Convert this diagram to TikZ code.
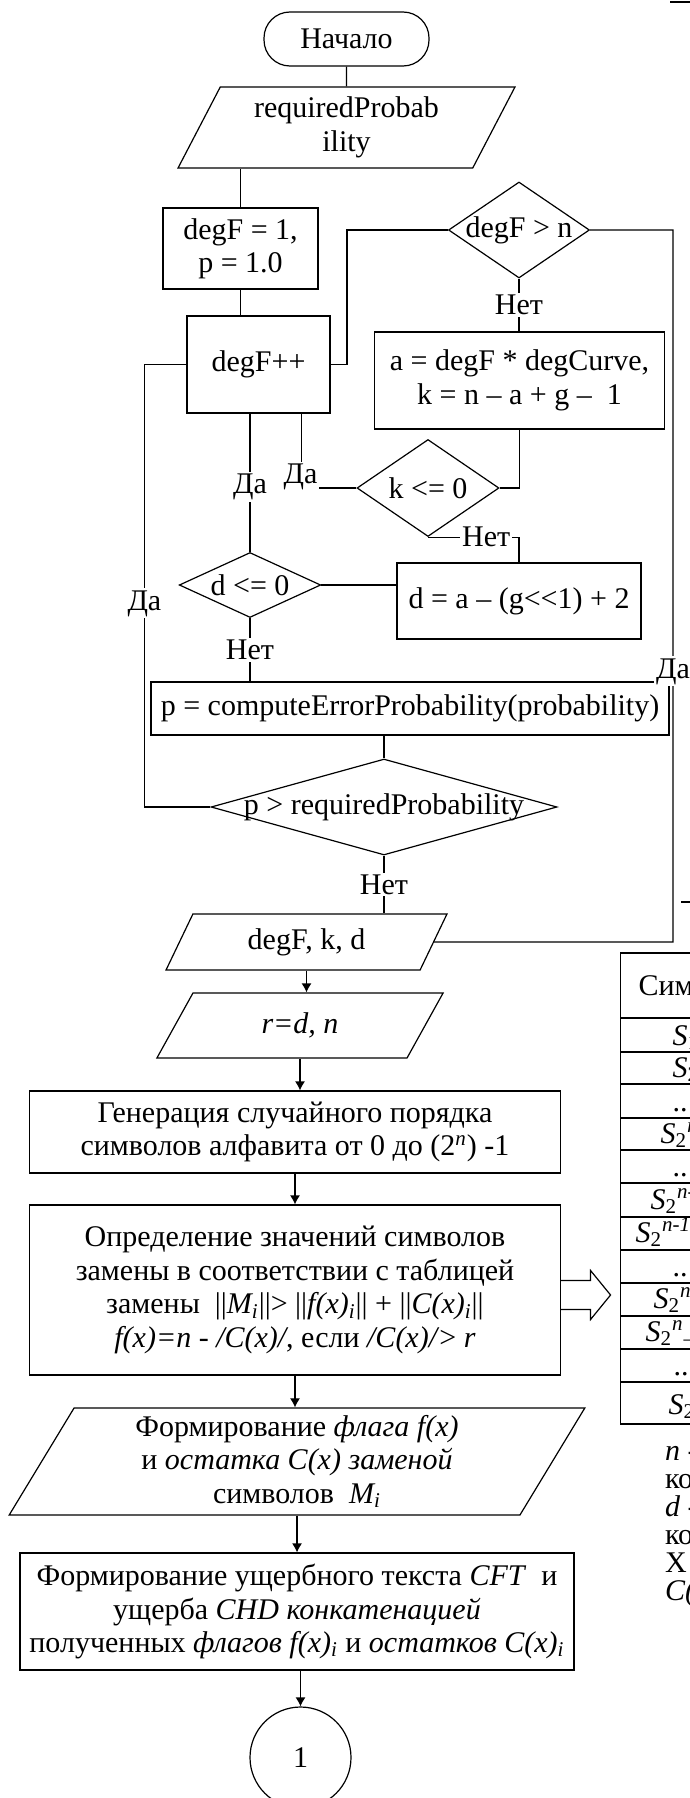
\documentclass[tikz,border=0pt]{standalone}
\usepackage{fontspec}
\setmainfont{Liberation Serif}
\usetikzlibrary{shapes.geometric,arrows.meta,calc}

\tikzset{
  box/.style={draw, rectangle, inner sep=0pt, align=center},
  io/.style={draw, trapezium, trapezium left angle=63, trapezium right angle=117,
    trapezium stretches=true, inner sep=0pt, align=center},
  decision/.style={draw, diamond, inner sep=0pt},
  term/.style={draw, rectangle, rounded corners=13pt, inner sep=0pt},
  lbl/.style={fill=white, inner sep=1pt},
  arr/.style={-{Latex[length=4.5pt,width=5pt]}},
  cell/.style={anchor=base west, inner sep=0pt}
}

\begin{document}
\begin{tikzpicture}[x=0.5pt, y=-0.5pt, line width=0.6pt,
    font=\fontsize{15}{16.7}\selectfont]
\useasboundingbox (0,0) rectangle (690,1798);

% blocks
\node[term, minimum width=82.5pt, minimum height=27pt] (start) at (346.5,39) {Начало};
\node[io, minimum width=168.5pt, minimum height=40.5pt] (input) at (346.5,127.5) {requiredProbab\\ility};
\node[box, minimum width=77.5pt, minimum height=40.5pt] (init) at (240.5,248.5) {degF = 1,\\p = 1.0};
\node[box, minimum width=71.5pt, minimum height=48.5pt] (incdeg) at (258.5,364.5) {degF++};
\node[decision, minimum width=70.5pt, minimum height=48pt, label=center:{degF > n}] (chkdeg) at (519,230) {};
\node[box, minimum width=145pt, minimum height=48.5pt] (calcak) at (519.5,380.5) {a = degF * degCurve,\\k = n – a + g –\ \ 1};
\node[decision, minimum width=71pt, minimum height=48.5pt, label=center:{k <= 0}] (chkk) at (428,488) {};
\node[box, minimum width=122pt, minimum height=38pt] (calcd) at (519,601) {d = a – (g<{}<1) + 2};
\node[decision, minimum width=70.75pt, minimum height=32.5pt, label=center:{d <= 0}] (chkd) at (250,585) {};
\node[box, minimum width=259pt, minimum height=26.5pt] (calcp) at (410,708.5) {p = computeErrorProbability(probability)};
\node[decision, minimum width=173pt, minimum height=48pt, label=center:{p > requiredProbability}] (chkp) at (384,807) {};
\node[io, minimum width=141pt, minimum height=28pt] (outp) at (306.5,942) {degF, k, d};
\node[io, minimum width=143.5pt, minimum height=32.5pt] (params) at (300,1025.5) {\textit{r=d, n}};
\node[box, minimum width=265.25pt, minimum height=41pt] (gen) at (295,1132)
  {Генерация случайного порядка\\символов алфавита от 0 до (2\textsuperscript{\textit{n}}) -1};
\node[box, minimum width=265.25pt, minimum height=85pt] (subst) at (295,1290)
  {Определение значений символов\\замены в соответствии с таблицей\\
   замены\ \ ||\textit{M\textsubscript{i}}||> ||\textit{f(x)\textsubscript{i}}|| + ||\textit{C(x)\textsubscript{i}}||\\
   \textit{f(x)=n} - \textit{/C(x)/}, если \textit{/C(x)/}> \textit{r}};
\node[io, minimum width=288pt, minimum height=53.5pt] (flags) at (297,1461.5)
  {Формирование \textit{флага f(x)}\\и \textit{остатка C(x) заменой}\\символов\ \ \textit{M\textsubscript{i}}};
\node[box, minimum width=277pt, minimum height=58.5pt] (concat) at (297,1611.5)
  {Формирование ущербного текста \textit{CFT}\ \ и\\ущерба \textit{CHD конкатенацией}\\
   полученных \textit{флагов f(x)\textsubscript{i}} и \textit{остатков C(x)\textsubscript{i}}};
\node[draw, circle, minimum size=50.5pt, inner sep=0pt] (conn) at (300.5,1757.5) {1};

% connectors
\draw (start) -- (input);
\draw (init.north) -- (init.north |- input.south);
\draw (init.south) -- (init.south |- incdeg.north);
\draw (chkdeg.west) -- ++(-101,0) |- (incdeg.east);
\draw (chkdeg.south) -- node[lbl] (no1) {Нет} (chkdeg.south |- calcak.north);
\draw (calcak.south) |- (chkk.east);
\draw (chkk.west) -| ($(incdeg.south east)+(-29.5,0)$);
\node[lbl] (yes1) at (300.5,477) {Да};
\draw (incdeg.south -| chkd.north) -- node[lbl, pos=0.53] (yes2) {Да} (chkd.north);
\draw (chkk.south) -| node[lbl, pos=0.32] (no2) {Нет} (calcd.north);
\draw (chkd.east) -- (chkd.east -| calcd.west);
\draw (chkd.south) -- node[lbl] (no3) {Нет} (chkd.south |- calcp.north);
\draw (calcp.south -| chkp.north) -- (chkp.north);
\draw (incdeg.west) -- ++(-42,0) |- node[lbl, pos=0.27] (yes3) {Да} (chkp.west);
\draw (chkp.south) -- node[lbl] (no4) {Нет} (chkp.south |- outp.north);
\coordinate (rt) at (673,942);
\draw (chkdeg.east) -| node[lbl, pos=0.81] (yes4) {Да} (rt) -- (outp.east);

\draw[arr] (outp.south) -- (outp.south |- params.north);
\draw[arr] (params.south) -- (params.south |- gen.north);
\draw[arr] (gen.south) -- (subst.north);
\draw[arr] (subst.south) -- (subst.south |- flags.north);
\draw[arr] (flags.south) -- (flags.south |- concat.north);
\draw[arr] (concat.south -| conn.north) -- (conn.north);

% block arrow to the table
\draw ($(subst.east)+(0,-9.5)$) -- ++(29.7,0) -- ++(0,-10) -- ++(20,24.5)
  -- ++(-20,24.5) -- ++(0,-10) -- ++(-29.7,0);

% table (cut at the page edge)
\foreach \ya/\yb in {953/1018, 1018/1052, 1052/1084, 1084/1118, 1118/1150, 1150/1183,
    1183/1217, 1217/1250, 1250/1283, 1283/1316, 1316/1349, 1349/1382, 1382/1424}
  \draw (620.5,\ya) rectangle (700,\yb);
\node[cell] (head) at (638,995) {Символ};
\foreach \xx/\yy/\tt [count=\i] in {
    672/1045/{\textit{S}\textsubscript{1}},
    672/1077/{\textit{S}\textsubscript{2}},
    672/1111/{..},
    660/1143/{\textit{S}\textsubscript{2}\textsuperscript{\textit{r}}},
    672/1176/{..},
    650/1209/{\textit{S}\textsubscript{2}\textsuperscript{\textit{n}-\textit{1}}},
    635/1242/{\textit{S}\textsubscript{2}\textsuperscript{\textit{n}-\textit{1}}\textsubscript{–1}},
    672/1276/{..},
    653/1308/{\textit{S}\textsubscript{2}\textsuperscript{\textit{n}}\textsubscript{–1}},
    645/1341/{\textit{S}\textsubscript{2}\textsuperscript{\textit{n}}\textsubscript{–1}},
    673/1375/{...},
    668/1414/{\textit{S}\textsubscript{2}}}
  \node[cell] (row\i) at (\xx,\yy) {\tt};

% notes under the table
\node[cell] (note1) at (664.5,1460) {\textit{n} -};
\node[cell] (note2) at (664.5,1488) {ко};
\node[cell] (note3) at (664.5,1516) {\textit{d} -};
\node[cell] (note4) at (664.5,1544) {ко};
\node[cell] (note5) at (664.5,1572) {Х};
\node[cell] (note6) at (664.5,1600) {\textit{C(}};

% fragments at the right edge
\draw[line width=1pt] (670,2) -- (690,2);
\draw (681,902) -- (690,902);
\end{tikzpicture}
\end{document}
